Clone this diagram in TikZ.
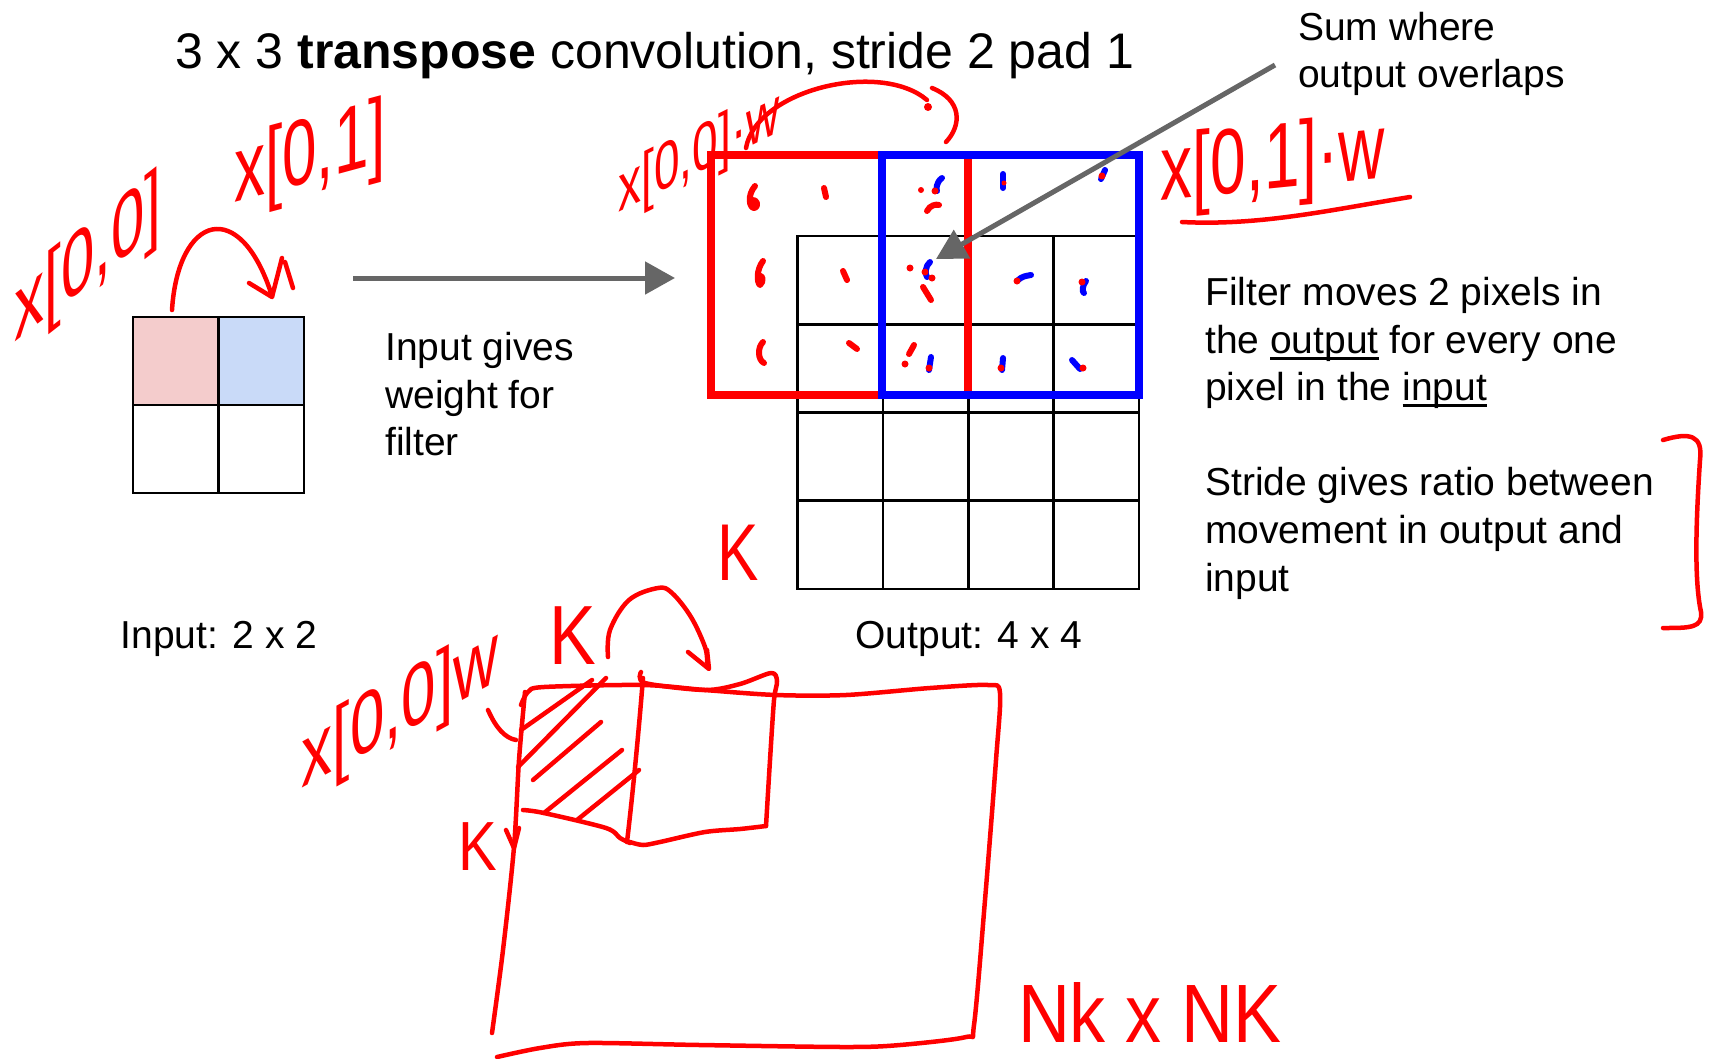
\documentclass[tikz,border=0pt]{standalone}
\usepackage{fontspec}
\usepackage{graphicx}
\setmainfont{Liberation Sans}
\usetikzlibrary{arrows.meta}
\definecolor{arrgray}{RGB}{102,102,102}
\definecolor{pinkc}{HTML}{F4CCCC}
\definecolor{bluec}{HTML}{C9DAF8}
\definecolor{hred}{RGB}{255,0,0}
\definecolor{hblue}{RGB}{0,0,255}
\newcommand\myul[1]{\setbox0\hbox{#1}\rlap{\rule[-7pt]{\wd0}{2.6pt}}#1}
\newcommand\hwtext[3]{\fontsize{#1}{#1}\selectfont\scalebox{1}[#2]{#3}}
\begin{document}
\begin{tikzpicture}[x=1pt,y=-1pt,
  body/.style={font=\fontsize{39}{47}\selectfont, inner sep=0pt, anchor=base west},
  titlestyle/.style={font=\fontsize{50}{60}\selectfont, inner sep=0pt, anchor=base west},
  hw/.style={text=hred, inner sep=0pt, anchor=center},
  pen/.style={draw=hred, line width=4.5pt, line cap=round, line join=round},
  wmark/.style={draw=hred, line width=6pt, line cap=round, line join=round},
  bpen/.style={draw=hblue, line width=6pt, line cap=round, line join=round},
  incell/.style={draw=black, line width=2.8pt, minimum width=85.5pt, minimum height=88pt, inner sep=0pt, outer sep=0pt},
  outcell/.style={draw=black, line width=2.6pt, minimum width=85.4pt, minimum height=88.3pt, inner sep=0pt, outer sep=0pt},
  filt/.style={line width=8pt, minimum width=257pt, minimum height=240pt, inner sep=0pt, outer sep=0pt},
  grayarrow/.style={draw=arrgray, line width=5pt, -{Triangle[length=30pt,width=32pt]}},
]
\fill[white] (0,0) rectangle (1712,1058);
\useasboundingbox (0,0) rectangle (1712,1058);

% title and texts
\node[titlestyle] (title) at (175,68) {3 x 3 \textbf{transpose} convolution, stride 2 pad 1};
\node[body] (sum1) at (1298,40) {Sum where};
\node[body] (sum2) at (1298,87) {output overlaps};
\node[body] (ig1) at (385,360) {Input gives};
\node[body] (ig2) at (385,408) {weight for};
\node[body] (ig3) at (385,455) {filter};
\node[body] (fm1) at (1205,305) {Filter moves 2 pixels in};
\node[body] (fm2) at (1205,353) {the \myul{output} for every one};
\node[body] (fm3) at (1205,400) {pixel in the \myul{input}};
\node[body] (sg1) at (1205,495) {Stride gives ratio between};
\node[body] (sg2) at (1205,543) {movement in output and};
\node[body] (sg3) at (1205,591) {input};
\node[body, anchor=base] (inl) at (219,648) {Input: 2 x 2};
\node[body, anchor=base] (outl) at (969,648) {Output: 4 x 4};

% input grid
\node[incell, fill=pinkc] (i00) at (175.75,361) {};
\node[incell, fill=bluec] (i01) at (261.25,361) {};
\node[incell] (i10) at (175.75,449) {};
\node[incell] (i11) at (261.25,449) {};

% output grid
\foreach \i in {0,...,3}{
  \foreach \j in {0,...,3}{
    \node[outcell] (o\i\j) at ({840.19+85.375*\j},{280.13+88.25*\i}) {};
  }
}

% filter boxes
\node[filt, draw=hred] (redf) at (839.5,275) {};
\node[filt, draw=hblue] (bluef) at (1010.5,275) {};

% gray arrows
\coordinate (a1s) at (353,278);
\coordinate (a1e) at (675,278);
\draw[grayarrow] (a1s) -- (a1e);

% weight marks (red)
\draw[wmark] (755,186) .. controls (747,195) and (749,209) .. (755,208) .. controls (759,206) and (757,199) .. (752,200);
\draw[wmark] (824,188) -- (826,197);
\draw[wmark] (763,261) .. controls (756,270) and (757,283) .. (760,285) .. controls (764,282) and (763,274) .. (759,276);
\draw[wmark] (843,271) -- (847,280);
\draw[wmark] (763,342) .. controls (757,348) and (758,360) .. (764,363);
\draw[wmark] (849,343) -- (857,349);
\fill[hred] (921,190) circle (3pt);
\draw[wmark] (927,211) .. controls (930,205) and (936,204) .. (939,205);
\fill[hred] (910,268) circle (3.5pt);
\draw[wmark] (923,287) -- (931,300);
\draw[wmark] (909,354) -- (914,345);
\fill[hred] (905,364) circle (3.5pt);
% weight marks (blue with red)
\draw[bpen] (942,178) .. controls (936,182) and (936,190) .. (937,191);
\fill[hred] (935,191) circle (3.5pt);
\draw[bpen] (1003,174) -- (1003,188);
\fill[hred] (1004,183) circle (2.5pt);
\draw[bpen] (1105,170) -- (1101,179);
\fill[hred] (1102,176) circle (3.5pt);
\draw[bpen] (930,262) .. controls (925,266) and (925,274) .. (927,277);
\fill[hred] (925,272) circle (3.5pt);
\fill[hred] (932,278) circle (3.5pt);
\draw[bpen] (1017,281) .. controls (1022,276) and (1026,276) .. (1031,275);
\fill[hred] (1017,281) circle (3.5pt);
\draw[bpen] (1086,281) .. controls (1082,286) and (1082,292) .. (1084,293);
\fill[hred] (1082,282) circle (3.5pt);
\draw[bpen] (931,357) -- (929,370);
\fill[hred] (929,368) circle (3.5pt);
\draw[bpen] (1003,358) -- (1002,370);
\fill[hred] (1001,368) circle (3.5pt);
\draw[bpen] (1072,360) -- (1080,369);
\fill[hred] (1083,368) circle (3.5pt);

\coordinate (a2s) at (1275,65);
\coordinate (a2e) at (936,259);
\draw[grayarrow] (a2s) -- (a2e);

% handwritten labels (upright letters on a sloping line)
\node[hw, yslant=0.78] (h1) at (88,262) {\hwtext{60}{1.5}{x[0,0]}};
\node[hw, yslant=0.27] (h2) at (310,158) {\hwtext{62}{1.5}{x[0,1]}};
\node[hw, yslant=0.5] (h3) at (699,155) {\hwtext{46}{1.45}{x[0,0]·w}};
\node[hw, yslant=0.1] (h4) at (1273,165) {\hwtext{64}{1.45}{x[0,1]·w}};
\node[hw] (h5) at (738,553) {\hwtext{62}{1.3}{K}};
\node[hw] (h6) at (573,636) {\hwtext{70}{1.2}{K}};
\node[hw, yslant=0.55] (h7) at (400,712) {\hwtext{62}{1.4}{x[0,0]w}};
\node[hw] (h8) at (478,847) {\hwtext{58}{1.2}{K}};
\node[hw] (h9) at (1150,1012) {\hwtext{72}{1.15}{Nk x NK}};

% handwritten strokes: input arrow
\draw[pen] (172,310) .. controls (178,215) and (240,195) .. (272,296);
\draw[pen] (249,283) -- (272,297) -- (282,258);
\draw[pen] (285,262) -- (293,288);
% output arrow
\draw[pen] (746,148) .. controls (756,90) and (880,60) .. (927,100);
\fill[hred] (928,107) circle (4pt);
\draw[pen] (932,88) .. controls (962,100) and (962,125) .. (946,142);
% underline under x[0,1].w
\draw[pen] (1182,222) .. controls (1260,226) and (1330,210) .. (1410,197);
% bracket
\draw[pen] (1663,440) .. controls (1690,432) and (1703,435) .. (1700,460)
  .. controls (1696,520) and (1694,580) .. (1701,612)
  .. controls (1703,628) and (1690,628) .. (1663,628);

% bottom sketch
\draw[pen] plot[smooth, tension=0.5] coordinates {(521,705) (528,692) (544,687) (643,685) (705,690) (776,695) (846,695) (930,688) (988,685) (1000,693) (996,760) (985,900) (974,1025) (966,1037) (900,1045) (846,1047) (700,1045) (587,1043) (540,1048) (497,1057)};
\draw[pen] plot[smooth, tension=0.5] coordinates {(525,692) (519,760) (514,847) (503,950) (492,1033)};
\draw[pen] plot[smooth, tension=0.5] coordinates {(641,672) (645,683) (705,690) (740,684) (771,673) (777,681) (774,700) (770,760) (766,826)};
\draw[pen] plot[smooth, tension=0.5] coordinates {(766,826) (740,829) (705,832) (660,842) (643,845) (630,842)};
\draw[pen] (643,678) .. controls (638,740) and (632,800) .. (627,842);
\draw[pen] plot[smooth, tension=0.5] coordinates {(523,810) (544,813) (606,828) (620,838) (630,843)};
\draw[pen] (521,730) -- (592,680);
\draw[pen] (518,767) -- (606,678);
\draw[pen] (533,780) -- (601,722);
\draw[pen] (544,813) -- (622,750);
\draw[pen] (577,820) -- (639,770);
\draw[pen] (488,710) .. controls (496,728) and (505,738) .. (516,740);
\draw[pen] (506,830) -- (514,848) -- (519,828);
% bottom K arrow
\draw[pen] plot[smooth, tension=0.6] coordinates {(608,657) (610,630) (629,600) (658,588) (672,593) (691,617) (705,647) (707,662)};
\draw[pen] (688,652) -- (709,669) -- (707,650);
\end{tikzpicture}
\end{document}
